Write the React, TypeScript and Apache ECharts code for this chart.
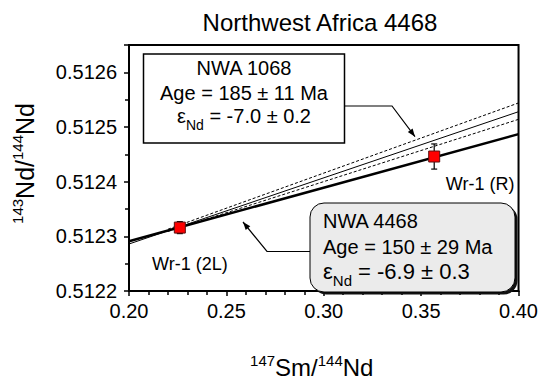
import React, { useEffect, useRef } from "react";
import * as echarts from "echarts";

const FONT = "'Liberation Sans', Arial, sans-serif";

// Samples (whole-rock fractions)
const sampleNames = ["Wr-1 (2L)", "Wr-1 (R)"];
const smNd = [0.2261, 0.3567];
const ndNd = [0.512316, 0.512446];
const ndErr = [0.000011, 0.000023];

// Isochron endpoints
const isoX = [0.2, 0.4];
const nwa4468Iso = [0.512291, 0.512487];
const nwa1068Iso = [0.512286, 0.512528];
const envX = [0.22, 0.4];
const envUpper = [0.512313, 0.512544];
const envLower = [0.512309, 0.512514];

// Axis ranges / ticks
const xMin = 0.2, xMax = 0.4, xStep = 0.05;
const yMin = 0.5122, yMax = 0.51265, yStep = 0.0001;

const pairs = (xs: number[], ys: number[]) => xs.map((x, i) => [x, ys[i]]);

export default function App() {
  const ref = useRef<HTMLDivElement>(null);
  useEffect(() => {
    if (!ref.current) return;
    const chart = echarts.init(ref.current, undefined, { renderer: "svg" });
    const lineBase = { type: "line", showSymbol: false, symbol: "none", silent: true, z: 2 };
    chart.setOption({
      animation: false,
      backgroundColor: "#ffffff",
      textStyle: { fontFamily: FONT },
      title: {
        text: "Northwest Africa 4468",
        left: 315,
        textAlign: "center",
        top: 5,
        textStyle: { fontFamily: FONT, fontSize: 24, fontWeight: "normal", color: "#000" },
      },
      grid: {
        left: 129, right: 19, top: 45, bottom: 82,
        show: true, borderColor: "#000", borderWidth: 2, backgroundColor: "transparent",
      },
      xAxis: {
        type: "value", min: xMin, max: xMax, interval: xStep,
        name: "{sup|147}{b|Sm/}{sup|144}{b|Nd}",
        nameLocation: "middle", nameGap: 62,
        nameTextStyle: {
          padding: [0, 24, 0, 0],
          rich: {
            b: { fontFamily: FONT, fontSize: 24, color: "#000", lineHeight: 28 },
            sup: { fontFamily: FONT, fontSize: 15, color: "#000", verticalAlign: "top", lineHeight: 28, padding: [0, 0, 8, 0] },
          },
        },
        axisLine: { lineStyle: { color: "#000", width: 2 } },
        axisTick: { show: true, inside: false, length: 5, lineStyle: { color: "#000", width: 1.5 } },
        minorTick: { show: true, splitNumber: 5, length: 4, lineStyle: { color: "#000", width: 1.5 } },
        axisLabel: { fontFamily: FONT, fontSize: 20, color: "#000", margin: 10, formatter: (v: number) => v.toFixed(2) },
        splitLine: { show: false },
      },
      yAxis: {
        type: "value", min: yMin, max: yMax, interval: yStep,
        name: "{sup|143}{b|Nd/}{sup|144}{b|Nd}",
        nameLocation: "middle", nameGap: 89, nameRotate: 90,
        nameTextStyle: {
          padding: [0, 0, 0, 9],
          rich: {
            b: { fontFamily: FONT, fontSize: 25, color: "#000", lineHeight: 30 },
            sup: { fontFamily: FONT, fontSize: 15, color: "#000", verticalAlign: "top", lineHeight: 30, padding: [0, 0, 9, 0] },
          },
        },
        axisLine: { lineStyle: { color: "#000", width: 2 } },
        axisTick: { show: true, inside: false, length: 5, lineStyle: { color: "#000", width: 1.5 } },
        minorTick: { show: true, splitNumber: 2, length: 4, lineStyle: { color: "#000", width: 1.5 } },
        axisLabel: {
          fontFamily: FONT, fontSize: 20, color: "#000", margin: 12, showMaxLabel: false,
          formatter: (v: number) => v.toFixed(4),
        },
        splitLine: { show: false },
      },
      series: [
        { ...lineBase, name: "NWA 1068 isochron", data: pairs(isoX, nwa1068Iso), lineStyle: { color: "#000", width: 1 } },
        { ...lineBase, name: "NWA 1068 upper", data: pairs(envX, envUpper), lineStyle: { color: "#000", width: 1, type: [3, 2] } },
        { ...lineBase, name: "NWA 1068 lower", data: pairs(envX, envLower), lineStyle: { color: "#000", width: 1, type: [3, 2] } },
        { ...lineBase, name: "NWA 4468 isochron", data: pairs(isoX, nwa4468Iso), lineStyle: { color: "#000", width: 2.5 } },
        {
          type: "custom", name: "errors", z: 3, silent: true,
          data: smNd.map((x, i) => [x, ndNd[i], ndErr[i]]),
          renderItem: (params: any, api: any) => {
            const x = api.value(0), y = api.value(1), e = api.value(2);
            const t = api.coord([x, y + e]);
            const b = api.coord([x, y - e]);
            const st = { stroke: "#000", lineWidth: 1.2 };
            return {
              type: "group",
              children: [
                { type: "line", shape: { x1: t[0], y1: t[1], x2: b[0], y2: b[1] }, style: st },
                { type: "line", shape: { x1: t[0] - 3, y1: t[1], x2: t[0] + 3, y2: t[1] }, style: st },
                { type: "line", shape: { x1: b[0] - 3, y1: b[1], x2: b[0] + 3, y2: b[1] }, style: st },
              ],
            };
          },
        },
        {
          type: "scatter", name: "samples", z: 4, symbol: "rect", symbolSize: 11,
          itemStyle: { color: "#ff0000", borderColor: "#5a1010", borderWidth: 1, opacity: 1 },
          data: smNd.map((x, i) => ({
            value: [x, ndNd[i]],
            name: sampleNames[i],
            label: {
              show: true, position: "inside", formatter: "{b}",
              offset: i === 0 ? [10, 36] : [46, 27],
              fontFamily: FONT, fontSize: 18, color: "#000",
            },
          })),
        },
      ],
      graphic: [
        // NWA 1068 box
        { type: "rect", z: 10, shape: { x: 143.5, y: 54, width: 201, height: 89 }, style: { fill: "#fff", stroke: "#000", lineWidth: 1.5 } },
        { type: "text", z: 11, x: 244, y: 78, style: { text: "NWA 1068", fontFamily: FONT, fontSize: 20, fill: "#000", align: "center", verticalAlign: "bottom" } },
        { type: "text", z: 11, x: 244, y: 103, style: { text: "Age = 185 ± 11 Ma", fontFamily: FONT, fontSize: 20, fill: "#000", align: "center", verticalAlign: "bottom" } },
        {
          type: "text", z: 11, x: 244, y: 132,
          style: {
            text: "{e|ε}{s|Nd}{n| = -7.0 ± 0.2}",
            align: "center", verticalAlign: "bottom",
            rich: {
              e: { fontFamily: FONT, fontSize: 20, fill: "#000", color: "#000", lineHeight: 26, verticalAlign: "top" },
              n: { fontFamily: FONT, fontSize: 20, fill: "#000", color: "#000", lineHeight: 26, verticalAlign: "top" },
              s: { fontFamily: FONT, fontSize: 14, fill: "#000", color: "#000", lineHeight: 26, verticalAlign: "bottom" },
            },
          },
        },
        { type: "polyline", z: 10, shape: { points: [[344, 106], [392, 106], [415, 136.7]] }, style: { stroke: "#000", lineWidth: 1.2, fill: "none" } },
        { type: "polygon", z: 10, shape: { points: [[415, 136.7], [407.8, 132.1], [412.6, 128.5]] }, style: { fill: "#000" } },
        // NWA 4468 box
        { type: "rect", z: 10, shape: { x: 312.5, y: 205.5, width: 205, height: 89, r: 14 }, style: { fill: "#111", stroke: "none" } },
        { type: "rect", z: 10, shape: { x: 310, y: 203, width: 205, height: 89, r: 14 }, style: { fill: "#ebebeb", stroke: "#000", lineWidth: 1 } },
        { type: "text", z: 11, x: 323, y: 231, style: { text: "NWA 4468", fontFamily: FONT, fontSize: 20, fill: "#000", align: "left", verticalAlign: "bottom" } },
        { type: "text", z: 11, x: 323, y: 257, style: { text: "Age = 150 ± 29 Ma", fontFamily: FONT, fontSize: 20, fill: "#000", align: "left", verticalAlign: "bottom" } },
        {
          type: "text", z: 11, x: 323, y: 288,
          style: {
            text: "{e|ε}{s|Nd}{n| = -6.9 ± 0.3}",
            align: "left", verticalAlign: "bottom",
            rich: {
              e: { fontFamily: FONT, fontSize: 22, fill: "#000", color: "#000", lineHeight: 28, verticalAlign: "top" },
              n: { fontFamily: FONT, fontSize: 22, fill: "#000", color: "#000", lineHeight: 28, verticalAlign: "top" },
              s: { fontFamily: FONT, fontSize: 15, fill: "#000", color: "#000", lineHeight: 28, verticalAlign: "bottom" },
            },
          },
        },
        { type: "polyline", z: 10, shape: { points: [[310, 251.5], [267, 251.5], [243, 222]] }, style: { stroke: "#000", lineWidth: 1.2, fill: "none" } },
        { type: "polygon", z: 10, shape: { points: [[243, 222], [250.3, 226.3], [245.7, 230.1]] }, style: { fill: "#000" } },
      ],
    });
    return () => chart.dispose();
  }, []);
  return <div ref={ref} style={{ position: "fixed", left: 0, top: 0, width: 541, height: 384 }} />;
}
